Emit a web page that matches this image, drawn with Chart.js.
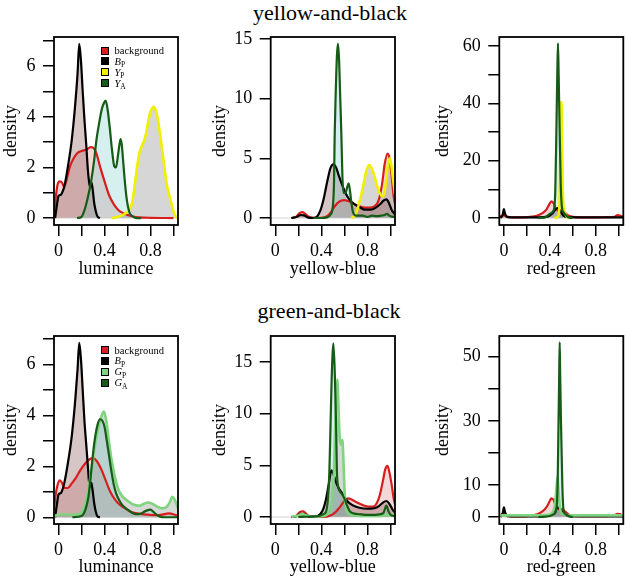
<!DOCTYPE html>
<html>
<head>
<meta charset="utf-8">
<script src="https://cdn.jsdelivr.net/npm/chart.js@4"></script>
<style>
  body { margin: 0; background: #fff; width: 626px; height: 578px; position: relative; overflow: hidden;
         font-family: 'Liberation Serif', 'Times New Roman', serif; color: #000; }
  canvas { position: absolute; }
  .title { position: absolute; font-size: 22px; line-height: 22px; white-space: nowrap; transform: translateX(-50%); }
  .leg { position: absolute; font-size: 10.5px; line-height: 11px; height: 11px; white-space: nowrap; }
  .leg .sw { position: absolute; left: 0; top: 1.5px; width: 6px; height: 6px; border: 1px solid #000; }
  .leg .tx { position: absolute; left: 14px; top: 0; }
  .leg .sb { font-size: 7.5px; position: relative; top: 2.5px; font-style: normal; }
</style>
</head>
<body>
<div class="title" style="left:330px;top:2px">yellow-and-black</div>
<div class="title" style="left:329px;top:300px">green-and-black</div>
<canvas id="c1"></canvas><canvas id="c2"></canvas><canvas id="c3"></canvas>
<canvas id="c4"></canvas><canvas id="c5"></canvas><canvas id="c6"></canvas>
<script>
/* ─── Data: [x, density] ───────────────────────────────────── */
// yellow-and-black, luminance
const lumBg1 = [[-0.04,0.1],[-0.025,0.8],[-0.01,1.3],[0.01,1.45],[0.03,1.4],[0.045,1.25],[0.06,1.35],[0.08,1.7],[0.1,2.05],[0.13,2.35],[0.16,2.55],[0.2,2.65],[0.24,2.7],[0.28,2.8],[0.3,2.78],[0.33,2.55],[0.36,2.05],[0.4,1.45],[0.44,0.9],[0.48,0.55],[0.52,0.32],[0.56,0.2],[0.6,0.12],[0.65,0.06],[0.7,0.03],[0.8,0.01],[1.0,0]];
const lumBp1 = [[-0.03,0],[-0.015,0.5],[0,0.88],[0.02,0.92],[0.035,1.05],[0.05,1.25],[0.08,2.0],[0.115,3.1],[0.145,4.5],[0.165,5.7],[0.18,6.88],[0.195,6.2],[0.21,5.0],[0.225,3.9],[0.24,2.95],[0.255,1.9],[0.265,1.45],[0.275,1.2],[0.285,1.42],[0.295,1.2],[0.31,0.6],[0.325,0.25],[0.34,0.05],[0.36,0]];
const lumYp1 = [[0.46,0],[0.52,0.05],[0.57,0.15],[0.61,0.3],[0.64,0.6],[0.66,1.2],[0.68,1.9],[0.7,2.5],[0.72,2.8],[0.74,3.0],[0.76,3.3],[0.78,3.8],[0.8,4.2],[0.83,4.4],[0.85,4.2],[0.87,3.75],[0.89,3.1],[0.91,2.4],[0.93,1.7],[0.95,1.15],[0.97,0.8],[0.99,0.45],[1.01,0.15],[1.03,0.02],[1.04,0]];
const lumYa1 = [[0.16,0],[0.2,0.05],[0.225,0.3],[0.25,0.72],[0.285,1.5],[0.31,2.3],[0.33,3.1],[0.355,3.8],[0.375,4.28],[0.395,4.55],[0.41,4.64],[0.425,4.35],[0.445,3.6],[0.465,2.7],[0.485,2.05],[0.5,2.0],[0.515,2.4],[0.53,2.9],[0.54,3.12],[0.55,2.9],[0.565,2.1],[0.58,1.3],[0.595,0.7],[0.615,0.25],[0.64,0.08],[0.68,0],[0.72,0]];
// yellow-and-black, yellow-blue
const ybBg1 = [[0.14,0],[0.18,0.1],[0.21,0.4],[0.235,0.5],[0.26,0.35],[0.29,0.1],[0.33,0.02],[0.4,0.02],[0.45,0.15],[0.48,0.45],[0.51,0.9],[0.54,1.25],[0.57,1.45],[0.6,1.5],[0.63,1.42],[0.66,1.3],[0.7,1.1],[0.74,0.95],[0.78,0.87],[0.82,0.87],[0.86,0.98],[0.89,1.3],[0.91,1.9],[0.93,3.0],[0.95,4.5],[0.975,5.4],[0.995,4.9],[1.01,3.6],[1.03,1.7],[1.05,0.8]];
const ybBp1 = [[0.14,0],[0.19,0.1],[0.22,0.25],[0.25,0.22],[0.28,0.05],[0.32,0],[0.36,0.1],[0.39,0.6],[0.42,1.6],[0.45,3.0],[0.48,4.2],[0.505,4.5],[0.53,4.2],[0.55,3.6],[0.58,2.8],[0.61,2.1],[0.64,1.6],[0.68,1.2],[0.73,0.92],[0.78,0.7],[0.83,0.7],[0.87,0.85],[0.91,1.15],[0.94,1.45],[0.965,1.56],[0.99,1.2],[1.01,0.7],[1.04,0.3]];
const ybYp1 = [[0.66,0],[0.69,0.2],[0.71,0.6],[0.73,1.3],[0.75,2.1],[0.77,3.0],[0.79,3.9],[0.815,4.44],[0.83,4.3],[0.85,3.85],[0.87,3.2],[0.89,2.5],[0.91,2.05],[0.93,1.8],[0.945,2.0],[0.96,2.9],[0.975,4.2],[0.994,5.0],[1.005,4.6],[1.02,3.5],[1.04,2.0]];
const ybYa1 = [[0.33,0],[0.4,0],[0.45,0.05],[0.48,0.3],[0.5,1.0],[0.51,3.0],[0.516,7.0],[0.525,10.5],[0.535,13.5],[0.544,14.6],[0.553,13.5],[0.563,10.5],[0.574,7.0],[0.583,3.5],[0.593,2.1],[0.61,2.1],[0.625,2.6],[0.638,2.9],[0.65,2.2],[0.662,1.2],[0.675,0.5],[0.7,0.2],[0.76,0.2],[0.8,0.1],[0.84,0.2],[0.88,0.15],[0.92,0.2],[0.95,0.25],[0.97,0.35],[0.99,0.2],[1.02,0.1],[1.04,0.1]];
// yellow-and-black, red-green
const rgBg1 = [[-0.04,0.3],[-0.02,0.8],[0,1.0],[0.02,0.6],[0.05,0.3],[0.1,0.2],[0.2,0.3],[0.25,0.5],[0.3,1.0],[0.34,1.8],[0.37,2.9],[0.39,4.4],[0.414,5.8],[0.435,5.0],[0.45,3.5],[0.465,2.8],[0.48,2.5],[0.5,2.6],[0.52,2.2],[0.55,1.2],[0.58,0.6],[0.62,0.35],[0.7,0.25],[0.8,0.25],[0.9,0.3],[0.96,0.4],[0.99,1.0],[1.01,0.9],[1.04,0.3]];
const rgBp1 = [[-0.03,0],[-0.01,1.2],[0,3.1],[0.01,1.5],[0.03,0.3],[0.1,0.2],[0.3,0.2],[0.38,0.5],[0.42,1.5],[0.45,3.0],[0.47,3.5],[0.49,2.5],[0.52,0.8],[0.56,0.3],[0.7,0.2],[0.9,0.2],[1.04,0.2]];
const rgYp1 = [[0.44,0],[0.47,0.5],[0.48,2],[0.488,12],[0.497,40.5],[0.505,35],[0.512,12],[0.52,4],[0.535,1.5],[0.55,0.3],[0.57,0]];
const rgYa1 = [[0.3,0],[0.36,0.3],[0.4,1.5],[0.43,2.5],[0.44,4],[0.448,10],[0.457,30],[0.465,50],[0.471,61],[0.477,50],[0.486,30],[0.495,12],[0.505,4],[0.52,2],[0.54,1.0],[0.56,0.3],[0.6,0]];
// green-and-black, luminance
const lumBg2 = [[-0.04,0.3],[-0.025,0.9],[-0.01,1.25],[0.01,1.45],[0.03,1.35],[0.05,1.15],[0.08,1.15],[0.11,1.3],[0.15,1.55],[0.19,1.85],[0.23,2.1],[0.27,2.28],[0.3,2.32],[0.33,2.22],[0.37,1.9],[0.41,1.45],[0.45,1.0],[0.49,0.7],[0.53,0.5],[0.58,0.35],[0.63,0.22],[0.7,0.14],[0.78,0.1],[0.85,0.08],[0.9,0.1],[0.96,0.15],[1.0,0.12],[1.04,0.05]];
const lumBp2 = [[-0.03,0],[-0.015,0.5],[0,0.9],[0.02,0.95],[0.035,1.1],[0.05,1.35],[0.08,2.1],[0.115,3.2],[0.145,4.6],[0.165,5.8],[0.18,6.85],[0.195,6.2],[0.21,5.0],[0.225,3.8],[0.24,2.9],[0.255,2.0],[0.265,1.4],[0.275,1.2],[0.285,1.35],[0.295,1.1],[0.31,0.55],[0.325,0.2],[0.34,0.03],[0.36,0]];
const lumGp2 = [[-0.04,0.05],[0,0.1],[0.05,0.12],[0.1,0.1],[0.15,0.1],[0.2,0.2],[0.23,0.5],[0.26,1.1],[0.29,2.0],[0.32,2.9],[0.35,3.6],[0.375,4.0],[0.395,4.15],[0.415,3.8],[0.435,3.1],[0.46,2.3],[0.49,1.6],[0.52,1.1],[0.56,0.8],[0.6,0.65],[0.65,0.5],[0.7,0.45],[0.74,0.52],[0.78,0.58],[0.82,0.52],[0.86,0.42],[0.9,0.35],[0.94,0.4],[0.97,0.6],[0.99,0.8],[1.01,0.7],[1.04,0.35]];
const lumGa2 = [[0.12,0],[0.2,0.05],[0.23,0.25],[0.26,0.8],[0.28,1.6],[0.3,2.5],[0.32,3.2],[0.34,3.65],[0.36,3.85],[0.38,3.8],[0.4,3.55],[0.42,3.0],[0.44,2.4],[0.46,1.8],[0.48,1.3],[0.5,0.95],[0.53,0.65],[0.56,0.45],[0.6,0.3],[0.65,0.15],[0.7,0.12],[0.76,0.25],[0.8,0.3],[0.84,0.15],[0.88,0.03],[0.92,0],[1.04,0]];
// green-and-black, yellow-blue
const ybBg2 = [[0.14,0],[0.18,0.1],[0.21,0.45],[0.24,0.55],[0.26,0.4],[0.29,0.1],[0.33,0.02],[0.42,0.02],[0.47,0.1],[0.51,0.35],[0.55,0.8],[0.59,1.4],[0.63,1.8],[0.67,1.65],[0.71,1.4],[0.76,1.15],[0.81,1.0],[0.85,1.0],[0.88,1.3],[0.91,2.2],[0.935,3.5],[0.955,4.6],[0.974,4.95],[0.99,4.4],[1.01,3.2],[1.03,1.7],[1.05,0.9]];
const ybBp2 = [[0.14,0],[0.19,0.1],[0.22,0.3],[0.25,0.28],[0.28,0.08],[0.32,0],[0.37,0.1],[0.41,0.6],[0.44,1.7],[0.465,3.2],[0.487,4.5],[0.5,4.3],[0.52,3.6],[0.55,2.8],[0.58,2.3],[0.62,1.6],[0.67,1.15],[0.73,0.9],[0.8,0.8],[0.86,0.85],[0.9,1.05],[0.93,1.35],[0.965,1.55],[0.99,1.3],[1.02,0.7],[1.05,0.3]];
const ybGp2 = [[0.14,0],[0.2,0.15],[0.23,0.3],[0.27,0.15],[0.35,0.05],[0.42,0.1],[0.46,0.4],[0.49,1.5],[0.51,4.5],[0.52,8.5],[0.53,12],[0.539,13.3],[0.548,11],[0.558,8.0],[0.568,7.0],[0.576,7.3],[0.583,7.45],[0.592,5.5],[0.602,2.5],[0.615,0.8],[0.64,0.3],[0.7,0.15],[0.8,0.1],[0.9,0.1],[0.97,0.2],[1.05,0.1]];
const ybGa2 = [[0.2,0],[0.3,0.05],[0.38,0.1],[0.42,0.3],[0.44,0.5],[0.455,1.5],[0.47,4.5],[0.48,9],[0.49,13.5],[0.505,16.8],[0.518,13.5],[0.528,9],[0.535,4.5],[0.545,3.0],[0.56,2.5],[0.58,2.2],[0.6,1.8],[0.62,1.2],[0.645,0.6],[0.68,0.35],[0.75,0.25],[0.8,0.2],[0.85,0.2],[0.9,0.25],[0.94,0.4],[0.965,1.1],[0.985,0.5],[1.01,0.15],[1.05,0.1]];
// green-and-black, red-green
const rgBg2 = [[-0.04,0.3],[-0.02,0.8],[0,1.1],[0.02,0.6],[0.05,0.3],[0.1,0.2],[0.2,0.3],[0.26,0.6],[0.31,1.2],[0.35,2.2],[0.38,3.6],[0.4,5.0],[0.414,5.8],[0.435,5.2],[0.45,3.5],[0.47,2.6],[0.49,2.4],[0.51,2.5],[0.53,1.8],[0.56,0.9],[0.6,0.4],[0.7,0.25],[0.8,0.25],[0.9,0.3],[0.96,0.5],[0.99,1.0],[1.01,0.9],[1.04,0.3]];
const rgBp2 = [[-0.03,0],[-0.01,1.2],[0,3.0],[0.01,1.5],[0.03,0.3],[0.1,0.2],[0.35,0.2],[0.4,0.6],[0.44,1.8],[0.47,3.0],[0.5,2.0],[0.53,0.8],[0.57,0.3],[0.7,0.2],[1.04,0.2]];
const rgGp2 = [[-0.04,0.5],[0.2,0.5],[0.38,0.6],[0.42,1.2],[0.445,4],[0.458,9],[0.466,12.5],[0.474,9],[0.488,3],[0.51,1],[0.55,0.6],[0.7,0.5],[1.04,0.5]];
const rgGa2 = [[0.3,0],[0.4,0.3],[0.44,1],[0.455,2],[0.468,10],[0.476,30],[0.482,45],[0.486,54.5],[0.49,45],[0.497,30],[0.509,10],[0.52,2],[0.54,0.8],[0.57,0.2],[0.6,0]];

/* ─── Axes: ticks, labels, limits ─────────────────────────── */
const X_TICKS = [0, 0.2, 0.4, 0.6, 0.8, 1.0];
const X_TICK_LABELS = ['0', '', '0.4', '', '0.8', ''];
const X_RANGE = [-0.04, 1.04];
const Y_TICKS_LUM = [0, 1, 2, 3, 4, 5, 6, 7];
const Y_LABELS_LUM = ['0', '', '2', '', '4', '', '6', ''];
const Y_TICKS_YB = [0, 5, 10, 15];
const Y_LABELS_YB = ['0', '5', '10', '15'];
const Y_TICKS_RG1 = [0, 10, 20, 30, 40, 50, 60];
const Y_LABELS_RG1 = ['0', '', '20', '', '40', '', '60'];
const Y_TICKS_RG2 = [0, 10, 20, 30, 40, 50];
const Y_LABELS_RG2 = ['0', '10', '', '30', '', '50'];
const X_TITLES = ['luminance', 'yellow-blue', 'red-green'];

const LEGEND_YB = [['background', ''], ['B', 'P'], ['Y', 'P'], ['Y', 'A']];
const LEGEND_GB = [['background', ''], ['B', 'P'], ['G', 'P'], ['G', 'A']];

/* ─── Styles ──────────────────────────────────────────────── */
const FONT = "'Liberation Serif', 'Times New Roman', serif";
const STYLE = {
  bg: { line: 'rgb(214,30,30)', fill: 'rgba(200,60,60,0.2)',   width: 2.2, sw: '#d81e1e' },
  bp: { line: '#000000',        fill: 'rgba(110,50,50,0.28)',  width: 2.2, sw: '#000000' },
  yp: { line: '#f0f000',        fill: 'rgba(120,120,120,0.3)', width: 2.6, sw: '#f0f000' },
  ya: { line: '#165c16',        fill: 'rgba(90,190,190,0.25)', width: 2.2, sw: '#165c16' },
  gp: { line: '#80d480',        fill: 'rgba(120,130,120,0.3)', width: 2.6, sw: '#80d480' },
  ga: { line: '#165c16',        fill: 'rgba(90,190,190,0.25)', width: 2.2, sw: '#165c16' }
};
const COLS = [
  { left: 0,   width: 200, yw: 54,   pr: 22 },
  { left: 209, width: 195, yw: 61.7, pr: 9 },
  { left: 432, width: 194, yw: 67.3, pr: 2.7 }
];
const ROWS = [
  { top: 15,  height: 265, pt: 22, xh: 55 },
  { top: 310, height: 268, pt: 26, xh: 54 }
];

const PANELS = [
  { id: 'c1', row: 0, col: 0, y: [-0.275, 7.155], yt: Y_TICKS_LUM, yl: Y_LABELS_LUM,
    series: [['bg', lumBg1], ['bp', lumBp1], ['yp', lumYp1], ['ya', lumYa1]] },
  { id: 'c2', row: 0, col: 1, y: [-0.586, 15.16], yt: Y_TICKS_YB, yl: Y_LABELS_YB,
    series: [['bg', ybBg1], ['bp', ybBp1], ['yp', ybYp1], ['ya', ybYa1]] },
  { id: 'c3', row: 0, col: 2, y: [-2.43, 63.2], yt: Y_TICKS_RG1, yl: Y_LABELS_RG1,
    series: [['bg', rgBg1], ['bp', rgBp1], ['yp', rgYp1], ['ya', rgYa1]] },
  { id: 'c4', row: 1, col: 0, y: [-0.265, 7.12], yt: Y_TICKS_LUM, yl: Y_LABELS_LUM,
    series: [['bg', lumBg2], ['bp', lumBp2], ['gp', lumGp2], ['ga', lumGa2]] },
  { id: 'c5', row: 1, col: 1, y: [-0.676, 17.5], yt: Y_TICKS_YB, yl: Y_LABELS_YB,
    series: [['bg', ybBg2], ['bp', ybBp2], ['gp', ybGp2], ['ga', ybGa2]] },
  { id: 'c6', row: 1, col: 2, y: [-2.18, 56.46], yt: Y_TICKS_RG2, yl: Y_LABELS_RG2,
    series: [['bg', rgBg2], ['bp', rgBp2], ['gp', rgGp2], ['ga', rgGa2]] }
];

/* ─── Plot box + gray zero line (R plot.density look) ─────── */
const boxPlugin = {
  id: 'box',
  beforeDatasetsDraw(chart) {
    const { ctx, chartArea: a, scales: { y } } = chart;
    const y0 = y.getPixelForValue(0);
    ctx.save();
    ctx.strokeStyle = '#c8c8c8';
    ctx.lineWidth = 0.8;
    ctx.beginPath(); ctx.moveTo(a.left, y0); ctx.lineTo(a.right, y0); ctx.stroke();
    ctx.restore();
  },
  afterDatasetsDraw(chart) {
    const { ctx, chartArea: a } = chart;
    ctx.save();
    ctx.strokeStyle = '#000';
    ctx.lineWidth = 1.8;
    ctx.strokeRect(a.left, a.top, a.right - a.left, a.bottom - a.top);
    ctx.restore();
  }
};

PANELS.forEach(p => {
  const col = COLS[p.col], row = ROWS[p.row];
  const cv = document.getElementById(p.id);
  cv.width = col.width; cv.height = row.height;
  cv.style.left = col.left + 'px'; cv.style.top = row.top + 'px';
  const n = p.series.length;
  new Chart(cv, {
    type: 'line',
    data: {
      datasets: p.series.map(([key, pts], i) => ({
        data: pts.map(([x, y]) => ({ x, y })),
        borderColor: STYLE[key].line,
        backgroundColor: STYLE[key].fill,
        borderWidth: STYLE[key].width,
        fill: 'origin',
        pointRadius: 0,
        cubicInterpolationMode: 'monotone',
        order: n - i
      }))
    },
    options: {
      responsive: false, animation: false, devicePixelRatio: 1,
      layout: { padding: { top: row.pt, right: col.pr, left: 0, bottom: 0 } },
      plugins: { legend: { display: false }, tooltip: { enabled: false }, filler: { drawTime: 'beforeDatasetsDraw' } },
      scales: {
        x: {
          type: 'linear', min: X_RANGE[0], max: X_RANGE[1],
          afterBuildTicks: s => { s.ticks = X_TICKS.map(v => ({ value: v })); },
          afterFit: s => { s.height = row.xh; },
          ticks: { autoSkip: false, maxRotation: 0, minRotation: 0, color: '#000', padding: 4.5,
                   font: { family: FONT, size: 18 }, callback: (v, i) => X_TICK_LABELS[i] },
          grid: { drawOnChartArea: false, drawTicks: true, tickLength: 11, color: '#000', lineWidth: 1.5 },
          border: { display: false },
          title: { display: true, text: X_TITLES[p.col], color: '#000', padding: 0, font: { family: FONT, size: 18 } }
        },
        y: {
          type: 'linear', min: p.y[0], max: p.y[1],
          afterBuildTicks: s => { s.ticks = p.yt.map(v => ({ value: v })); },
          afterFit: s => { s.width = col.yw; },
          ticks: { autoSkip: false, color: '#000', padding: 7.5,
                   font: { family: FONT, size: 18 }, callback: (v, i) => p.yl[i] },
          grid: { drawOnChartArea: false, drawTicks: true, tickLength: 11, color: '#000', lineWidth: 1.5 },
          border: { display: false },
          title: { display: true, text: 'density', color: '#000', padding: 0, font: { family: FONT, size: 18 } }
        }
      }
    },
    plugins: [boxPlugin]
  });
});

/* ─── Legends (HTML for the subscripts) ───────────────────── */
function addLegend(items, keys, left, top) {
  items.forEach(([main, sub], i) => {
    const d = document.createElement('div');
    d.className = 'leg';
    d.style.left = left + 'px';
    d.style.top = (top + i * 10.9) + 'px';
    const txt = sub ? '<i>' + main + '</i><span class="sb">' + sub + '</span>' : main;
    d.innerHTML = '<span class="sw" style="background:' + STYLE[keys[i]].sw + '"></span><span class="tx">' + txt + '</span>';
    document.body.appendChild(d);
  });
}
addLegend(LEGEND_YB, ['bg', 'bp', 'yp', 'ya'], 100.5, 45);
addLegend(LEGEND_GB, ['bg', 'bp', 'gp', 'ga'], 100.5, 344.5);
</script>
</body>
</html>
